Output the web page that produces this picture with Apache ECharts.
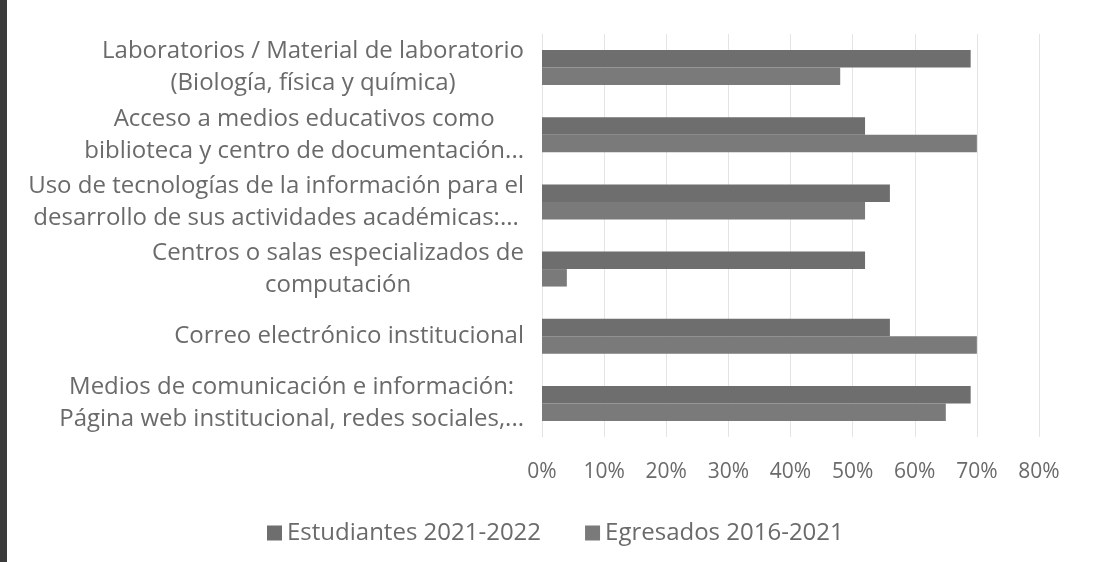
<!DOCTYPE html>
<html>
<head>
<meta charset="utf-8">
<script src="https://cdn.jsdelivr.net/npm/echarts@6/dist/echarts.min.js"></script>
<style>
  html, body { margin: 0; padding: 0; background: #fff; }
  #main { width: 1095px; height: 562px; }
  #edge { position: absolute; left: 0; top: 0; width: 7px; height: 562px; background: #3b3b3b; }
</style>
</head>
<body>
<div id="main"></div>
<div id="edge"></div>
<script>
// categorias (de arriba a abajo)
const categories = [
  'Laboratorios / Material de laboratorio\n(Biología, física y química)',
  'Acceso a medios educativos como\nbiblioteca y centro de documentación...',
  'Uso de tecnologías de la información para el\ndesarrollo de sus actividades académicas:...',
  'Centros o salas especializados de\ncomputación',
  'Correo electrónico institucional',
  'Medios de comunicación e información:\nPágina web institucional, redes sociales,...'
]
const seriesNames = ['Estudiantes 2021-2022', 'Egresados 2016-2021']
const estudiantes = [69, 52, 56, 52, 56, 69]
const egresados = [48, 70, 52, 4, 70, 65]
const xTicks = [0, 10, 20, 30, 40, 50, 60, 70, 80]

const textColor = '#6a6a6a'
const fontFamily = '"Open Sans", sans-serif'

const chart = echarts.init(document.getElementById('main'))

chart.setOption({
  animation: false,
  grid: {
    left: 542,
    right: 56,
    top: 34,
    bottom: 125
  },
  legend: {
    left: 262,
    top: 516,
    itemWidth: 15,
    itemHeight: 15,
    itemGap: 44,
    icon: 'rect',
    textStyle: { color: textColor, fontSize: 24, fontFamily: fontFamily },
    data: seriesNames
  },
  xAxis: {
    type: 'value',
    min: xTicks[0],
    max: xTicks[xTicks.length - 1],
    interval: 10,
    axisLine: { show: false },
    axisTick: { show: false },
    splitLine: { lineStyle: { color: '#e4e4e4', width: 1 } },
    axisLabel: {
      color: textColor,
      fontSize: 21,
      fontFamily: fontFamily,
      margin: 25,
      formatter: v => v + '%'
    }
  },
  yAxis: {
    type: 'category',
    inverse: true,
    data: categories,
    axisLine: { show: true, lineStyle: { color: '#e4e4e4' } },
    axisTick: { show: false },
    axisLabel: {
      margin: 18,
      interval: 0,
      formatter: v => v.split('\n').map(l => '{c|' + l + '}').join('\n'),
      rich: {
        c: {
          align: 'center',
          color: textColor,
          fontSize: 24,
          fontFamily: fontFamily,
          lineHeight: 32
        }
      }
    }
  },
  series: [
    {
      name: seriesNames[0],
      type: 'bar',
      data: estudiantes,
      barGap: '0%',
      barCategoryGap: '48%',
      itemStyle: { color: '#6e6e6e' }
    },
    {
      name: seriesNames[1],
      type: 'bar',
      data: egresados,
      barGap: '0%',
      barCategoryGap: '48%',
      itemStyle: { color: '#7a7a7a' }
    }
  ]
})
</script>
</body>
</html>
